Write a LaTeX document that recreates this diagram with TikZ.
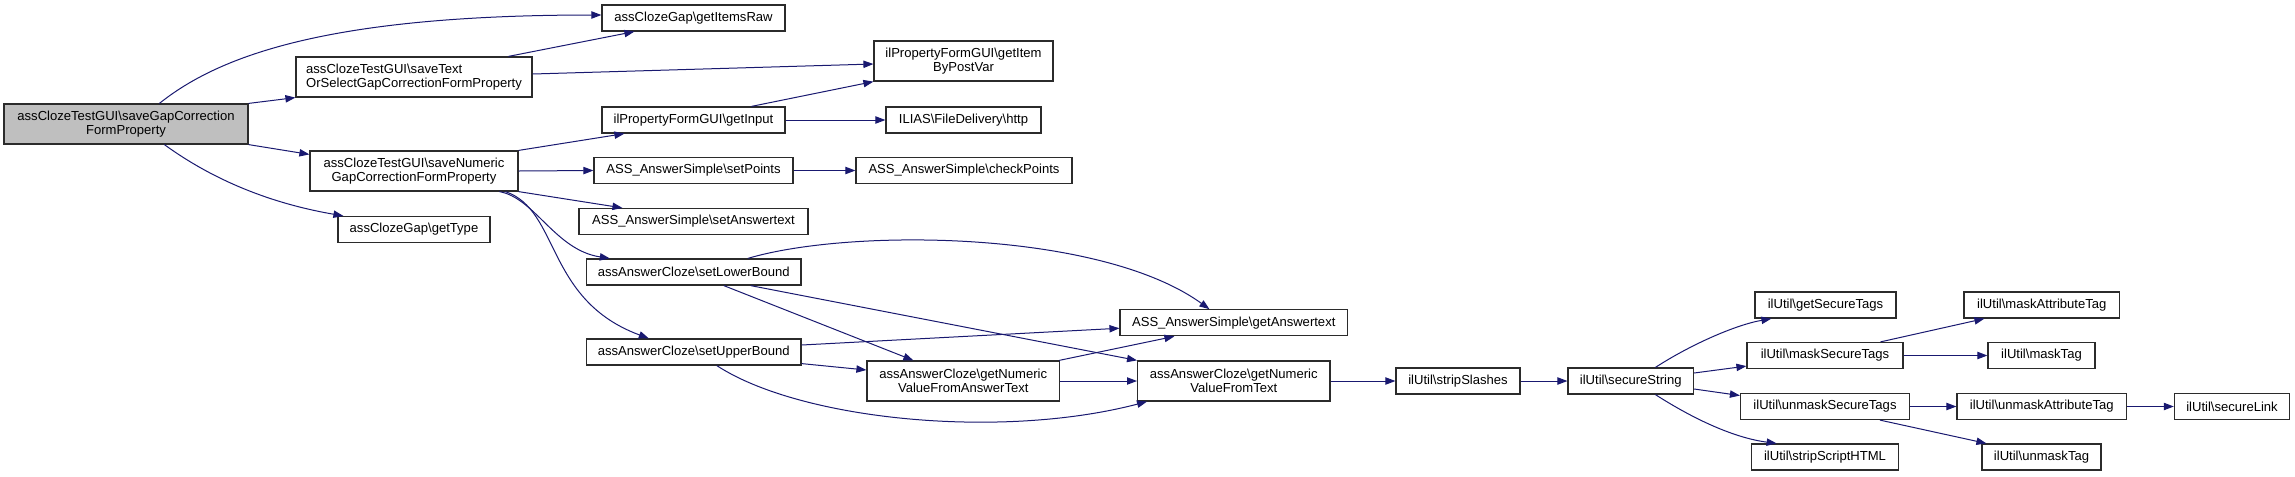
\documentclass[tikz,border=0pt]{standalone}
\usepackage{fontspec}
\setmainfont{Liberation Sans}
\usepackage{xcolor}
\usepackage{tikz}
\usetikzlibrary{calc,arrows.meta}
\definecolor{bg}{HTML}{FFFFFF}
\definecolor{frame}{HTML}{2B2B2B}
\definecolor{cur}{HTML}{BFBFBF}
\definecolor{edge}{HTML}{191970}
\tikzset{
  box/.style={draw=frame, fill=bg, line width=0.9pt, inner sep=0pt, align=center,
    minimum height=19.5pt, font=\fontsize{9.8pt}{10.5pt}\selectfont},
  twol/.style={box, minimum height=30pt},
  cur/.style={twol, fill=cur},
  link/.style={draw=edge, line width=0.75pt, -{Triangle[length=7.5pt,width=5.5pt]}},
}
\begin{document}
\begin{tikzpicture}[x=0.75pt, y=-0.75pt]
  \useasboundingbox[fill=bg] (0,0) rectangle (2295,476);
  % left part
  \node[cur, minimum width=183pt] (main) at (126,124) {assClozeTestGUI\textbackslash saveGapCorrection\\FormProperty};
  \node[twol, minimum width=177pt, align=left] (saveText) at (414,77) {assClozeTestGUI\textbackslash saveText\\OrSelectGapCorrectionFormProperty};
  \node[twol, minimum width=156pt] (saveNum) at (414,171) {assClozeTestGUI\textbackslash saveNumeric\\GapCorrectionFormProperty};
  \node[box, minimum width=114pt] (getType) at (414,229.5) {assClozeGap\textbackslash getType};
  \node[box, minimum width=137.25pt] (itemsRaw) at (693.5,18) {assClozeGap\textbackslash getItemsRaw};
  \node[box, minimum width=137.25pt] (getInput) at (693.5,120) {ilPropertyFormGUI\textbackslash getInput};
  \node[box, minimum width=149.25pt] (setPoints) at (693.5,170.5) {ASS\_AnswerSimple\textbackslash setPoints};
  \node[box, minimum width=171.75pt] (setAnsText) at (693.5,221.5) {ASS\_AnswerSimple\textbackslash setAnswertext};
  \node[box, minimum width=161pt] (lowerBound) at (693.75,272) {assAnswerCloze\textbackslash setLowerBound};
  \node[box, minimum width=161pt] (upperBound) at (693.75,352) {assAnswerCloze\textbackslash setUpperBound};
  % middle part
  \node[twol, minimum width=134.25pt] (itemByPost) at (963.5,61) {ilPropertyFormGUI\textbackslash getItem\\ByPostVar};
  \node[box, minimum width=116.25pt] (http) at (963.5,120) {ILIAS\textbackslash FileDelivery\textbackslash http};
  \node[box, minimum width=162pt] (checkPoints) at (964,170.5) {ASS\_AnswerSimple\textbackslash checkPoints};
  \node[twol, minimum width=144.4pt] (gnvfat) at (963.25,381) {assAnswerCloze\textbackslash getNumeric\\ValueFromAnswerText};
  \node[box, minimum width=170.6pt] (getAnsText) at (1233.75,322.75) {ASS\_AnswerSimple\textbackslash getAnswertext};
  \node[twol, minimum width=144.3pt] (gnvft) at (1233.8,381) {assAnswerCloze\textbackslash getNumeric\\ValueFromText};
  \node[box, minimum width=93pt] (stripSlashes) at (1458,381) {ilUtil\textbackslash stripSlashes};
  % right part
  \node[box, minimum width=94.1pt] (secString) at (1630.75,381) {ilUtil\textbackslash secureString};
  \node[box, minimum width=105.75pt] (getSecTags) at (1825.5,305) {ilUtil\textbackslash getSecureTags};
  \node[box, minimum width=117pt] (maskSecTags) at (1825,355.5) {ilUtil\textbackslash maskSecureTags};
  \node[box, minimum width=126.75pt] (unmaskSecTags) at (1825,406.5) {ilUtil\textbackslash unmaskSecureTags};
  \node[box, minimum width=110.7pt] (stripScript) at (1825,457) {ilUtil\textbackslash stripScriptHTML};
  \node[box, minimum width=116.7pt] (maskAttr) at (2041.8,305) {ilUtil\textbackslash maskAttributeTag};
  \node[box, minimum width=80.25pt] (maskTag) at (2041.5,355.5) {ilUtil\textbackslash maskTag};
  \node[box, minimum width=127.1pt] (unmaskAttr) at (2041.75,406.5) {ilUtil\textbackslash unmaskAttributeTag};
  \node[box, minimum width=89.25pt] (unmaskTag) at (2041.5,457) {ilUtil\textbackslash unmaskTag};
  \node[box, minimum width=86.4pt] (secLink) at (2232,406.5) {ilUtil\textbackslash secureLink};

  \draw[link] ($(main.north west)+(156,0)$) .. controls (220,55) and (330,15) .. ($(itemsRaw.west)+(0,-3)$);
  \draw[link] (main.north east) -- (saveText.south west);
  \draw[link] (main.south east) -- ($(saveNum.north west)+(0,4)$);
  \draw[link] ($(main.south west)+(161,0)$) .. controls (220,185) and (280,205) .. ($(getType.north west)+(6,0)$);
  \draw[link] ($(saveText.north west)+(213,0)$) -- ($(itemsRaw.south west)+(33,0)$);
  \draw[link] ($(saveText.east)+(0,-3)$) -- ($(itemByPost.west)+(0,3)$);
  \draw[link] (saveNum.north east) -- ($(getInput.south west)+(23,0)$);
  \draw[link] (saveNum.east) -- (setPoints.west);
  \draw[link] (saveNum.south east) -- ($(setAnsText.north west)+(44,0)$);
  \draw[link] ($(saveNum.south west)+(190,0)$) .. controls (535,198) and (555,250) .. ($(lowerBound.north west)+(24,0)$);
  \draw[link] ($(saveNum.south west)+(196,0)$) .. controls (560,210) and (545,300) .. ($(upperBound.north west)+(63,0)$);
  \draw[link] ($(getInput.north west)+(150,0)$) -- (itemByPost.south west);
  \draw[link] (getInput.east) -- (http.west);
  \draw[link] (setPoints.east) -- (checkPoints.west);
  \draw[link] ($(lowerBound.north west)+(162,0)$) .. controls (850,228) and (1100,230) .. ($(getAnsText.north west)+(90,0)$);
  \draw[link] ($(lowerBound.south west)+(138,0)$) -- ($(gnvfat.north west)+(47,0)$);
  \draw[link] ($(lowerBound.south east)+(-51,0)$) -- (gnvft.north west);
  \draw[link] ($(upperBound.east)+(0,-7)$) -- ($(getAnsText.west)+(0,5.5)$);
  \draw[link] ($(upperBound.south east)+(0,-2)$) -- ($(gnvfat.west)+(0,-11)$);
  \draw[link] ($(upperBound.south west)+(131,0)$) .. controls (800,420) and (1000,440) .. ($(gnvft.south west)+(10,0)$);
  \draw[link] ($(gnvfat.north east)+(-1,0)$) -- ($(getAnsText.south west)+(55,0)$);
  \draw[link] (gnvfat.east) -- (gnvft.west);
  \draw[link] (gnvft.east) -- (stripSlashes.west);
  \draw[link] (stripSlashes.east) -- (secString.west);
  \draw[link] ($(secString.north west)+(88,0)$) .. controls (1690,345) and (1735,325) .. ($(getSecTags.south west)+(17,0)$);
  \draw[link] ($(secString.east)+(0,-8)$) -- ($(maskSecTags.south west)+(0,-3)$);
  \draw[link] ($(secString.east)+(0,8)$) -- ($(unmaskSecTags.west)+(0,-11)$);
  \draw[link] ($(secString.south west)+(88,0)$) .. controls (1695,420) and (1735,438) .. ($(stripScript.north west)+(26,0)$);
  \draw[link] ($(maskSecTags.north west)+(134,0)$) -- ($(maskAttr.south west)+(21,0)$);
  \draw[link] (maskSecTags.east) -- (maskTag.west);
  \draw[link] (unmaskSecTags.east) -- (unmaskAttr.west);
  \draw[link] ($(unmaskSecTags.south west)+(140,0)$) -- ($(unmaskTag.north west)+(5,0)$);
  \draw[link] (unmaskAttr.east) -- (secLink.west);
\end{tikzpicture}
\end{document}
